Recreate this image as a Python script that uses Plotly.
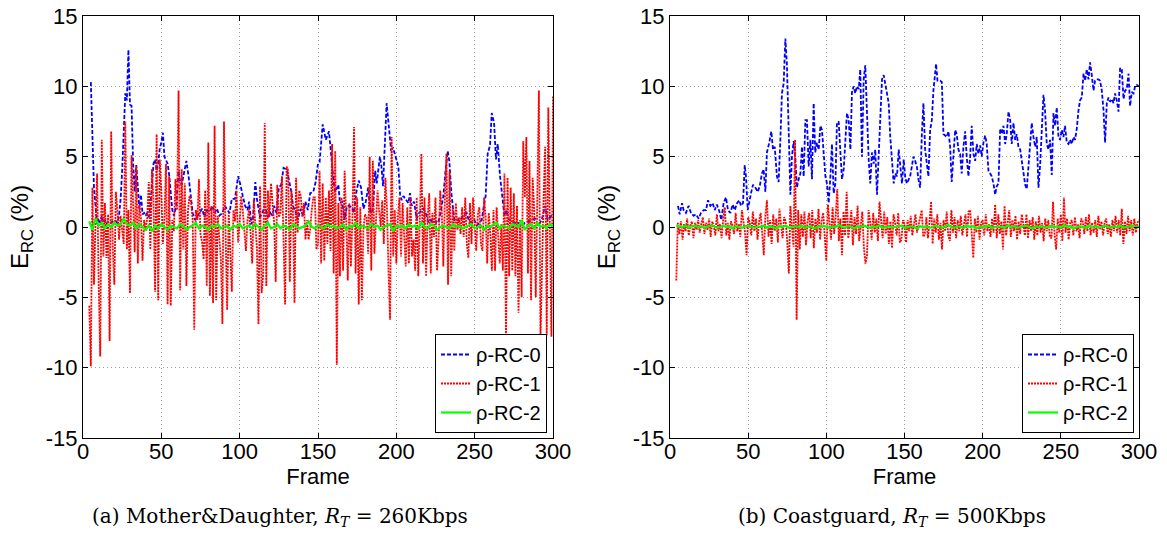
import plotly.graph_objects as go

# ---------------- data ----------------
red_a = [-5.6, -9.9, 2.8, -4.1, 0.3, 3.8, -4.0, -9.2, 6.2, -2.1,
         1.7, -2.2, 0.9, -8.1, 6.8, -1.5, -4.1, 2.5, 1.2, -0.9,
         0.8, -0.5, -1.2, 7.5, -1.6, 1.2, -4.7, 5.1, 1.1, -1.8,
         4.3, -2.6, 1.6, 0.6, -2.4, 0.5, -0.3, 0.7, 3.2, -1.6,
         4.1, 1.8, -4.6, 6.6, -5.2, 4.8, 2.5, -1.2, 0.7, 4.5,
         -5.5, 3.6, -5.6, 0.5, -0.3, 3.4, 1.2, 9.7, -4.5, 4.1,
         -1.6, 3.1, -4.2, 1.2, 2.2, 1.8, 0.5, -7.3, 1.2, 0.5,
         3.4, -0.5, -1.1, -2.3, 2.6, -4.2, 6.0, -4.9, 1.5, -5.4,
         7.2, -5.2, 0.8, -1.1, -2.3, -6.9, 7.5, -0.5, -5.9, 1.0,
         -1.4, -4.6, 1.2, 0.4, 2.6, -1.1, 0.3, 2.2, 1.2, -0.7,
         -1.7, 0.5, 1.3, -0.5, -2.6, 1.9, 0.5, -1.5, -6.9, 2.9,
         -4.7, -3.4, 7.4, -4.2, 2.6, 0.7, 3.1, 1.7, 0.3, -3.9,
         3.0, 0.7, 1.0, 3.6, -0.8, -5.5, 4.3, 4.0, -3.9, 2.6,
         1.2, -5.4, 3.5, -0.4, 2.6, 2.2, 0.7, 1.7, -0.9, 0.5,
         -0.9, -0.2, 1.2, 2.1, 2.1, -1.6,
         -1.2, 4.0, -2.6, 3.1, -2.4, 2.1, -1.2, 2.6, -1.7, 5.9,
         -3.3, 5.4, -9.8, 1.7, -3.5, 2.1, -3.1, 4.0, 0.5, -3.8,
         1.7, -2.8, 0.7, 7.1, -3.3, 2.1, -5.5, 1.4, -5.2, -0.2,
         0.9, 0.7, -1.9, 5.0, -3.1, 4.7, -1.9, 0.6, 2.6, 1.2,
         0.0, 1.9, -1.2, 3.5, 1.4, -3.1, -6.6, 6.4, -2.1, 1.2,
         -2.6, 0.7, 2.1, -2.1, 1.7, -0.6, -2.8, 1.4, -2.6, 2.1,
         -2.1, -0.9, -3.1, 2.1, -3.5, 0.5, 5.2, -2.6, 2.1, -3.5,
         0.7, 2.4, -3.3, 1.0, -0.7, 2.1, -3.1, -0.9, 2.6, 1.2,
         -2.8, 2.1, 5.2, -4.1, 4.0, -3.5, 1.4, -1.7, 1.7, -0.2,
         0.7, -0.5, 1.4, -0.7, 2.1, -1.2, -2.2, 1.7, -1.2, 2.1,
         0.0, -1.7, 0.9, 1.4, -1.2, -1.7, 2.1, 0.7, -2.6, 1.0,
         -0.5, -3.1, 1.2, -3.1, 1.4, -0.9, -2.6, 0.2, -3.1, 3.8,
         -7.9, 3.5, -3.5, 2.8, -3.1, 2.4, -3.5, 1.5, -6.1, 0.5,
         -5.0, 6.1, 2.1, 6.4, -3.3, 4.7, -5.2, 3.5, 1.2, -5.0,
         2.8, 9.7, -7.9, -2.1, 2.1, 5.7, -7.7, 8.5, 0.7, -7.8,
         9.3]

blue_a_x = [5, 7, 8, 9, 10, 11, 12, 13, 14, 15,
            16, 18, 20, 22, 23, 24, 25, 26, 27, 28,
            29, 30, 31, 32, 33, 34, 35, 36, 37, 38,
            39, 40, 41, 42, 43, 44, 45, 46, 47, 48,
            49, 50, 51, 52, 53, 54, 55, 56, 57, 58,
            59.5, 61, 62, 63, 64, 65, 66, 67.5, 69, 70,
            71.5, 73, 74.5, 76, 77.5, 79, 81, 82.5, 84, 85.5,
            87, 89, 90.5, 92, 93.5, 95, 97, 99, 100.5, 102,
            103.5, 105, 106, 107.5, 108.5, 110, 111, 113, 114.5, 116,
            117, 118, 119.5, 121, 122, 123.5, 125, 126.5, 128, 130,
            131.5, 133, 134, 136, 137, 139, 140.5, 142, 143.5, 145,
            147, 148.5, 150, 151, 153, 155, 157, 158, 160, 161,
            163, 164, 165.5, 167, 168.5, 170, 171.5, 173, 174.5, 176,
            177.5, 179, 180.5, 182, 183.5, 185, 186.5, 187.5, 189.5, 190.5,
            191.5, 192.8, 193.8, 195, 196.6, 198, 199.6, 201.3, 202.4, 203.4,
            204.5, 206, 207.7, 208.7, 209.8, 211.3, 213, 214.5, 216.2, 217.5,
            219, 220.5, 222, 223.6, 225, 226.8, 228.5, 230, 231.5, 232.8,
            233.8, 235.3, 237, 238.5, 240.2, 241.7, 243.4, 244.9, 246.4, 248,
            249.8, 251.3, 252.8, 254.5, 256, 257, 258.3, 259.8, 260.9, 262.4,
            263.6, 264.7, 266.2, 267.7, 269, 270.4, 271.5, 273.6, 275.8, 277.9,
            280, 282.1, 284.3, 286.4, 288.5, 290.6, 292.8, 294.9, 296.6, 298.1,
            300]
blue_a_y = [10.3, 2.8, 1.5, 0.2, 0.6, 0.3, 0.8, 0.3, 0.5, 0.2,
            0.4, 0.3, 0.5, 0.3, 0.8, 2.0, 4.0, 7.0, 9.5, 9.0,
            12.6, 8.7, 8.6, 4.5, 2.5, 4.4, 3.0, 1.3, 2.3, 0.9,
            1.0, 0.8, 1.0, 0.7, 1.5, 3.0, 4.5, 4.8, 4.0, 4.5,
            5.6, 6.0, 6.7, 5.0, 4.8, 4.5, 3.7, 2.5, 1.2, 0.8,
            1.5, 4.0, 3.2, 3.0, 3.6, 4.2, 4.7, 3.5, 2.0, 1.0,
            0.5, 0.8, 1.0, 1.3, 0.7, 1.2, 1.1, 1.5, 1.0, 1.3,
            0.8, 1.0, 1.5, 1.2, 1.0, 2.0, 2.0, 3.6, 3.0, 2.2,
            1.5, 1.2, 1.8, 0.2, 0.6, 3.2, 2.0, 0.7, 1.0, 1.5,
            1.0, 0.7, 1.0, 0.8, 1.5, 1.0, 2.8, 3.0, 4.2, 4.1,
            3.3, 2.5, 1.5, 1.0, 0.5, 1.3, 0.8, 1.8, 1.2, 2.4,
            2.5, 3.2, 4.5, 4.6, 7.3, 6.2, 6.8, 5.5, 3.2, 2.5,
            3.0, 1.7, 1.8, 0.5, 1.5, 1.5, 1.4, 1.0, 2.5, 3.3,
            2.8, 1.3, 1.8, 2.8, 1.0, 1.2, 4.0, 3.1, 5.0, 4.3,
            2.9, 6.2, 8.8, 7.4, 5.5, 5.6, 5.0, 4.3, 2.3, 1.9,
            2.2, 2.0, 1.7, 2.4, 1.5, 1.8, 0.6, 1.0, 1.2, 1.3,
            0.9, 0.3, 0.5, 0.3, 0.4, 0.3, 1.2, 2.2, 4.1, 5.4,
            4.7, 2.2, 0.5, 0.6, 0.4, 0.6, 0.9, 1.0, 0.4, 0.3,
            0.5, 0.1, 0.3, 0.5, 1.6, 2.2, 5.2, 5.8, 8.1, 7.4,
            4.8, 5.9, 3.6, 1.9, 0.8, 1.2, 0.6, 0.4, 0.3, 0.3,
            0.05, 0.3, 0.4, 0.5, 0.6, 0.1, 0.5, 1.5, 0.5, 0.7,
            0.9]

green_a = [0.4, -0.2, 0.6, 0.1, 0.3, -0.1, 0.2, 0.0, 0.3, 0.1,
           0.2, 0.6, 0.2, 0.1, 0.3, -0.1, 0.2, 0.0, -0.2, 0.1,
           -0.3, 0.1, -0.1, 0.2, 0.0, -0.2, 0.1, 0.0, -0.1, 0.2,
           0.1, -0.2, 0.0, 0.1, 0.3, -0.1, 0.1, 0.0, -0.2, 0.1,
           0.0, 0.2, -0.1, 0.0, 0.1, -0.2, 0.1, 0.0, 0.2, -0.1,
           0.0, 0.1, -0.1, 0.2, 0.0, -0.2, 0.1, 0.3, -0.1, 0.0,
           0.2, -0.1, 0.1, 0.0, -0.2, 0.2, 0.1, -0.1, 0.0, 0.1,
           0.4, 0.0, -0.1, 0.1, 0.0, -0.1, 0.2, 0.0, 0.1, -0.1,
           0.0, 0.2, -0.2, 0.1, 0.0, 0.3, -0.1, 0.1, 0.0, -0.1,
           0.2, 0.0, 0.1, -0.2, 0.0, 0.1, 0.2, -0.3, 0.1, 0.0,
           0.1, -0.1, 0.2, 0.0, 0.1, -0.1, 0.3, 0.0, -0.1, 0.2,
           0.1, -0.2, 0.0, 0.1, 0.0, -0.1, 0.2, 0.0, 0.1, -0.1,
           0.0, 0.1, 0.2, -0.1, 0.0, 0.1, -0.2, 0.1, 0.0, 0.2,
           0.3, -0.1, 0.1, 0.0, -0.1, 0.2, 0.1, 0.0, 0.5, -0.2,
           0.1, 0.2, -0.1, 0.3, 0.0, 0.1, -0.1, 0.2, 0.0]

red_b = [-3.8, 0.3, -0.5, 0.4, -0.9, 0.2, -0.3, 0.6, -0.6, 0.1,
         0.4, -0.8, 0.3, -0.2, 0.5, -0.4, 0.2, 0.7, -0.5, 0.3,
         -0.2, 0.6, -0.7, 0.4, 0.1, -0.6, 0.9, -0.3, 0.2, -0.8,
         0.5, 1.4, -0.6, 0.3, -0.9, 0.4, 0.1, -0.5, 1.0, -0.3,
         0.2, -0.7, 1.2, 0.5, -0.4, -2.0, 0.7, 0.3, -0.6, 1.1,
         -0.3, 0.6, -0.9, 0.4, 1.0, -0.5, -2.0, 0.8, 1.9, -0.7,
         0.5, -1.2, 0.9, -0.3, 0.6, -1.1, 1.3, 0.2, -0.8, 0.7,
         0.4, -1.0, -3.3, 1.5, 0.3, -1.4, 6.2, -6.6, 1.2, -1.6,
         0.9, -0.7, 1.1, -1.3, 0.4, 1.0, -0.8, 1.2, -1.5, 0.6,
         -0.4, 1.3, -0.9, 0.5, 1.0, -1.1, -2.4, 1.6, 0.3, -0.9,
         1.4, -0.5, 0.8, 2.7, -1.0, 0.6, -2.0, 1.1, -0.6, 2.5,
         -0.8, 0.4, 1.2, -1.3, 0.7, -0.5, 1.5, -1.0, 0.3, 1.1,
         -1.4, -2.6, -2.1, 1.2, 0.4, -0.9, 1.0, -0.4, 0.6, -1.0,
         1.8, 0.2, -0.8, 1.1, -0.5, 0.7, -1.2, 0.4, -1.5, 0.9,
         0.3, -0.6, 1.0, -1.1, -0.9, 0.5, 0.2, -1.1, 0.5, -0.3,
         0.8, -0.6, 0.3, 0.9, -0.4, 0.1, 0.6, 1.2, -0.7, -0.5,
         0.7, -0.8, 0.4, 1.8, -1.2, 0.6, -0.4, 0.9, -0.9, 0.3,
         -1.6, 0.5, -0.3, 1.1, -0.6, -1.0, 1.2, -0.4, 0.7, -0.8,
         0.5, -0.3, 0.8, -0.6, 0.2, 0.9, -0.7, 1.1, 1.2, -0.5,
         -2.2, 0.6, -0.4, 0.8, -0.9, 0.3, 0.5, -0.6, 0.9, -0.3,
         0.2, -0.7, 0.6, -0.4, 1.6, -0.8, 0.9, -0.5, 0.4, -1.6,
         1.5, -0.6, 0.3, 1.2, -0.7, 0.5, -0.3, 0.8, -0.9, 0.4,
         -0.5, 0.9, 0.2, -0.6, 0.9, -0.8, 0.5, -0.3, 0.7, -0.9,
         0.4, -0.6, 0.8, -0.4, 0.3, -1.0, 0.6, -0.3, 0.5, -0.7,
         -0.8, 1.8, -0.5, -1.6, 0.6, -0.4, 0.9, -1.0, 2.1, -0.4,
         0.6, -0.9, 0.3, 0.5, -0.6, 0.7, -0.3, 0.2, -0.8, 0.6,
         0.4, -0.5, 0.7, -0.3, 0.9, -0.6, 0.3, -0.4, 0.5, -0.7,
         0.8, -0.2, 0.4, -0.6, 0.3, 0.6, -0.5, 0.2, -0.7, 0.5,
         -0.3, 0.8, -0.4, 0.5, -0.6, 1.3, -1.2, 0.4, -0.5, 0.8,
         -0.3, 0.5, -0.6, 0.6, -0.4, 0.3, 0.5]

blue_b_x = [5.1, 6.2, 7.7, 8.7, 10.2, 11.9, 13.4, 15.1, 16.6, 18.3,
            19.8, 21.5, 23, 24.3, 25.8, 27.3, 28.6, 30, 31.6, 32.8,
            34.3, 35.8, 37.1, 38.6, 40.1, 41.4, 42.9, 44.3, 45.4, 46.7,
            47.8, 48.6, 49.7, 50.7, 52, 53.1, 54.6, 56.1, 57.4, 58.8,
            59.9, 61, 62, 63.5, 64.8, 65.9, 67, 68.4, 69.5, 70.6,
            71.6, 72.7, 73.8, 74.8, 75.9, 77, 78, 79.1, 80.2, 81.2,
            82.3, 83.4, 84.4, 85.5, 86.6, 87.6, 88.7, 89.8, 90.8, 91.9,
            92.9, 94, 95.1, 96.2, 97.2, 98.3, 99.4, 100.4, 101.5, 102.6,
            103.6, 104.7, 105.8, 106.8, 107.9, 108.9, 110, 111.1, 112.2, 113.2,
            114.3, 115.4, 116.4, 117.5, 118.5, 119.6, 120.7, 121.7, 122.8, 123.9,
            124.9, 126, 127.1, 128.1, 129.2, 130.3, 131.3, 132.4, 133.5, 134.5,
            135.6, 136.7, 137.7, 138.8, 139.9, 140.9, 142, 143.1, 144.1, 145.2,
            146.3, 147.3, 148.4, 149.5, 150.5,
            151.5, 152.5, 153.6, 154.7, 155.7, 156.8, 157.9, 158.9, 160, 161.1,
            162.1, 163.2, 164.3, 165.3, 166.4, 167.5, 168.5, 169.6, 170.2, 171.1,
            172.8, 173.9, 174.9, 176, 177.1, 178.1, 179.2, 180.2, 181.3, 182.4,
            183.4, 184.5, 185.6, 186.6, 187.7, 188.8, 189.8, 190.9, 192, 193,
            194.1, 195.2, 196.2, 197.3, 198.4, 199.4, 200.5, 201.6, 202.6, 203.7,
            204.8, 205.8, 206.9, 208, 209, 210.1, 211.2, 212.2, 213.3, 214.4,
            215.4, 216.5, 217.6, 218.6, 219.7, 220.8, 221.8, 222.9, 224, 225,
            226.1, 227.2, 228.2, 229.3, 230.4, 231.4, 232.5, 233.6, 234.6, 235.7,
            236.8, 237.8, 238.9, 239.9, 241, 242.1, 243.1, 244.2, 245.3, 246.3,
            247.4, 248.5, 249.5, 250.6, 251.7, 252.7, 253.8, 254.9, 255.9, 257,
            258.1, 259.1, 260.2, 261.3, 262.3, 263.4, 264.5, 265.5, 266.6, 267.7,
            268.7, 269.8, 270.9, 271.9, 273, 274.1, 275.1, 276.2, 277.3, 278.3,
            279.4, 280.5, 281.5, 282.6, 283.7, 284.7, 285.8, 286.9, 287.9, 289,
            290.1, 291.1, 292.2, 293.3, 294.3, 295.4, 296.5, 297.5, 298.6, 299.7]
blue_b_y = [1.5, 0.9, 1.7, 1.2, 1.0, 1.5, 1.0, 0.8, 0.9, 0.6,
            1.0, 1.2, 1.2, 1.9, 1.5, 1.7, 1.2, 1.6, 1.1, 0.5,
            1.7, 2.1, 1.2, 1.0, 1.6, 1.2, 1.7, 1.9, 1.5, 1.7,
            4.4, 3.6, 1.2, 1.9, 2.5, 3.0, 2.8, 2.5, 2.9, 3.8,
            4.1, 2.5, 5.3, 6.0, 6.8, 5.5, 5.7, 3.6, 3.2, 6.2,
            9.5, 10.2, 13.4, 11.5, 6.9, 2.3, 5.0, 6.1, 4.8, 2.8,
            3.4, 3.8, 5.7, 3.6, 7.6, 7.6, 4.3, 6.2, 3.4, 8.8,
            5.3, 6.0, 5.5, 7.2, 6.9, 5.0, 3.6, 3.1, 1.7, 3.6,
            5.9, 2.4, 3.1, 7.4, 7.5, 5.5, 3.4, 4.1, 6.2, 8.1,
            7.6, 5.5, 9.6, 10.0, 9.5, 10.0, 9.8, 11.2, 5.0, 10.5,
            11.5, 7.4, 4.8, 3.1, 5.3, 4.5, 5.5, 2.3, 5.5, 8.6,
            10.5, 10.8, 10.1, 9.3, 8.8, 6.4, 4.3, 3.1, 3.8, 3.6,
            5.5, 4.3, 3.1, 4.8, 3.5,
            3.1, 3.3, 3.6, 4.3, 5.0, 4.7, 4.3, 3.4, 2.8, 6.6,
            8.8, 5.5, 4.3, 3.6, 6.9, 7.6, 9.7, 10.7, 11.6, 10.4,
            10.4, 10.3, 6.6, 6.5, 6.4, 6.8, 5.7, 3.2, 5.2, 6.9,
            6.6, 5.5, 5.2, 3.8, 5.7, 6.8, 5.0, 3.6, 5.0, 7.2,
            5.2, 4.7, 5.9, 5.2, 5.8, 5.0, 6.0, 6.5, 5.9, 4.0,
            3.8, 3.6, 3.1, 2.3, 2.9, 3.1, 7.0, 6.6, 7.2, 5.9,
            6.6, 8.2, 7.6, 5.9, 7.4, 6.2, 6.6, 5.7, 5.5, 4.7,
            3.8, 3.0, 2.7, 4.3, 6.4, 7.4, 6.4, 5.7, 6.4, 2.8,
            4.5, 7.2, 9.4, 8.3, 5.9, 5.5, 6.2, 3.7, 8.1, 7.2,
            8.5, 6.4, 6.2, 6.9, 6.4, 7.2, 6.0, 5.9, 6.2, 5.9,
            6.4, 6.2, 7.0, 8.3, 9.0, 9.2, 10.9, 10.4, 11.2, 10.5,
            11.7, 10.8, 9.7, 10.4, 10.5, 10.5, 10.4, 9.7, 8.3, 6.0,
            8.8, 9.2, 8.9, 9.1, 8.8, 9.5, 9.0, 8.2, 11.3, 11.2,
            9.1, 9.7, 9.8, 10.9, 8.6, 9.6, 9.5, 10.0, 10.1, 10.0]

green_b = [0.1, 0.05, 0.0, 0.1, -0.05, 0.05, 0.1, 0.0, 0.05, -0.05,
           0.0, 0.1, 0.05, -0.05, 0.0, 0.1, 0.0, 0.05, -0.1, 0.05,
           0.0, -0.05, 0.05, 0.1, 0.0, -0.05, 0.05, 0.0, 0.1, -0.05,
           0.05, 0.0, -0.1, 0.05, 0.0, 0.1, -0.05, 0.0, 0.05, 0.0,
           0.1, -0.05, 0.0, 0.05, -0.1, 0.0, 0.05, 0.1, 0.0, -0.05,
           0.05, 0.0, 0.15, 0.0, -0.05, 0.05, 0.0, -0.1, 0.05, 0.0,
           0.1, 0.0, -0.05, 0.05, 0.0, 0.1, -0.05, 0.0, 0.05, -0.05,
           0.0, 0.05, 0.1, -0.05, 0.0, 0.05, 0.0, -0.1, 0.05, 0.0,
           0.05, -0.05, 0.0, 0.1, 0.0, -0.05, 0.05, 0.15, 0.0, -0.05,
           0.05, 0.0, -0.05, 0.1, 0.0, 0.05, -0.1, 0.0, 0.05, 0.0,
           0.1, -0.05, 0.0, 0.05, 0.0, -0.05, 0.1, 0.0, 0.05, -0.05,
           0.0, 0.05, 0.1, 0.0, -0.1, 0.05, 0.0, 0.05, -0.05, 0.0,
           0.1, 0.0, 0.05, -0.05, 0.15, 0.0, 0.05, -0.1, 0.0, 0.05,
           0.0, -0.05, 0.1, 0.0, 0.05, -0.05, 0.0, 0.1, 0.0, -0.05,
           0.05, 0.0, 0.1, -0.05, 0.0, 0.05, 0.1, 0.0, 0.05]

series_names = ["ρ-RC-0", "ρ-RC-1", "ρ-RC-2"]
x_tick_vals = [0, 50, 100, 150, 200, 250, 300]
y_tick_vals = [-15, -10, -5, 0, 5, 10, 15]
y_tick_text = ["-15", "-10", "-5", "0", "5", "10", "15"]
captions = ["(a) Mother&amp;Daughter, <i>R</i><sub><i>T</i></sub> = 260Kbps",
            "(b) Coastguard, <i>R</i><sub><i>T</i></sub> = 500Kbps"]

assert len(blue_a_x) == len(blue_a_y), (len(blue_a_x), len(blue_a_y))
assert len(blue_b_x) == len(blue_b_y), (len(blue_b_x), len(blue_b_y))

red_frames_a = list(range(4, 4 + len(red_a)))
red_frames_b = list(range(4, 4 + len(red_b)))
green_frames_a = list(range(4, 4 + 2 * len(green_a), 2))
green_frames_b = list(range(4, 4 + 2 * len(green_b), 2))

# ---------------- figure ----------------
W, H = 1167, 533
SANS = "Liberation Sans, Arial, sans-serif"
SERIF = "DejaVu Serif, serif"

fig = go.Figure()

panels = [
    dict(xa="x", ya="y", leg="legend",
         blue=(blue_a_x, blue_a_y), red=(red_frames_a, red_a), green=(green_frames_a, green_a)),
    dict(xa="x2", ya="y2", leg="legend2",
         blue=(blue_b_x, blue_b_y), red=(red_frames_b, red_b), green=(green_frames_b, green_b)),
]
styles = [("blue", "#0000ff", "4px,2px", 1.8), ("red", "#ff0000", "2px,1px", 1.8),
          ("green", "#00ff00", "solid", 2.2)]

for p in panels:
    for (key, col, dash, w), name in zip(styles, series_names):
        xs, ys = p[key]
        fig.add_trace(go.Scatter(x=xs, y=ys, mode="lines", name=name,
                                 line=dict(color=col, dash=dash, width=w),
                                 xaxis=p["xa"], yaxis=p["ya"], legend=p["leg"]))

left_px = [(83, 553), (670, 1139)]
top_px, bot_px = 16, 438
ydom = [1 - bot_px / H, 1 - top_px / H]

axis_common = dict(showline=True, linecolor="black", linewidth=1, mirror="ticks",
                   ticks="inside", ticklen=5, tickcolor="black", automargin=False,
                   showgrid=True, gridcolor="#9c9c9c", griddash="1px,3px", gridwidth=1,
                   zeroline=False, tickfont=dict(family=SANS, size=22, color="black"))

for i, (l, r) in enumerate(left_px):
    sfx = "" if i == 0 else "2"
    fig.update_layout(**{
        "xaxis" + sfx: dict(axis_common, domain=[l / W, r / W], range=[0, 300],
                            tickmode="array", tickvals=x_tick_vals,
                            anchor="y" + sfx, ticklabelstandoff=-6,
                            title=dict(text="Frame", standoff=0,
                                       font=dict(family=SANS, size=22, color="black"))),
        "yaxis" + sfx: dict(axis_common, domain=ydom, range=[-15, 15],
                            tickmode="array", tickvals=y_tick_vals, ticktext=y_tick_text,
                            anchor="x" + sfx,
                            title=dict(text="E<sub>RC</sub> (%)", standoff=10,
                                       font=dict(family=SANS, size=24, color="black"))),
    })

leg_common = dict(bgcolor="white", bordercolor="black", borderwidth=1,
                  font=dict(family=SANS, size=20, color="black"),
                  xanchor="right", yanchor="bottom", tracegroupgap=0, itemwidth=30)
fig.update_layout(
    legend=dict(leg_common, x=547 / W, y=1 - 433 / H),
    legend2=dict(leg_common, x=1134 / W, y=1 - 433 / H),
)

for cap, cx in zip(captions, [280, 892]):
    fig.add_annotation(text=cap, xref="paper", yref="paper", x=cx / W, y=1 - 517 / H,
                       xanchor="center", yanchor="middle", showarrow=False,
                       font=dict(family=SERIF, size=20, color="black"))

fig.update_layout(width=W, height=H, margin=dict(l=0, r=0, t=0, b=0),
                  paper_bgcolor="white", plot_bgcolor="white", showlegend=True)

fig.write_html("out.html", config={"displayModeBar": False},
               post_script="document.body.style.margin='0';document.body.style.overflow='hidden';")
